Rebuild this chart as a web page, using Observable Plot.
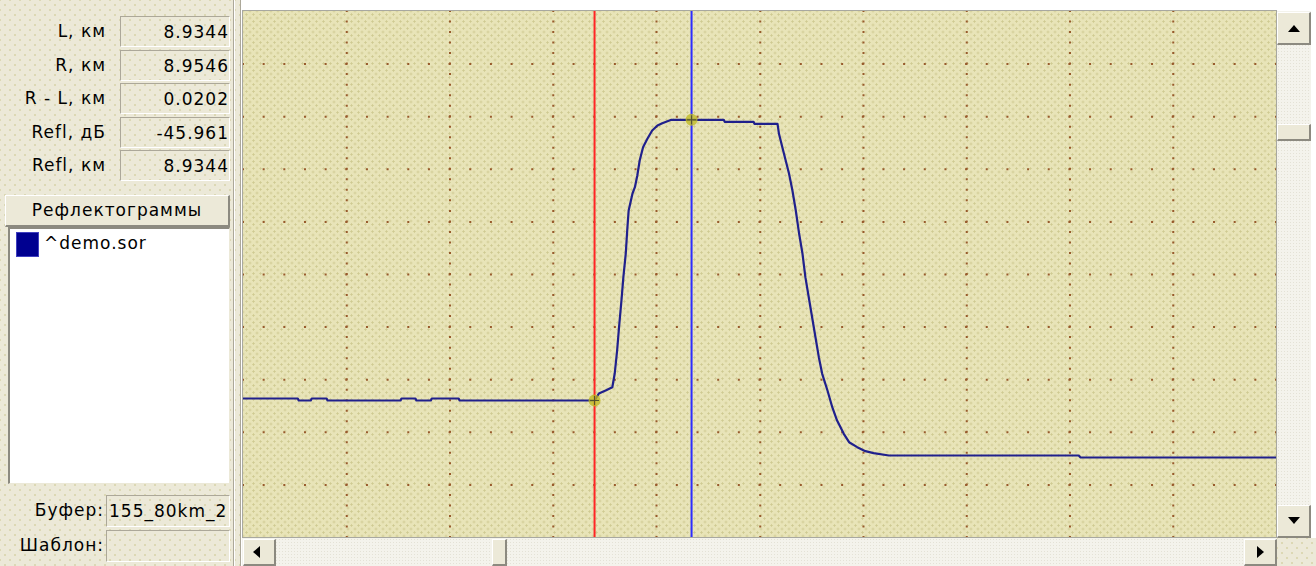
<!DOCTYPE html>
<html>
<head>
<meta charset="utf-8">
<script src="https://cdn.jsdelivr.net/npm/d3@7"></script>
<script src="https://cdn.jsdelivr.net/npm/@observablehq/plot@0.6"></script>
<style>
  html, body { margin:0; padding:0; }
  body { width:1316px; height:566px; position:relative; overflow:hidden; background:#ffffff;
         font-family:"DejaVu Sans", sans-serif; font-size:17px; letter-spacing:1px; color:#000; }
  .abs { position:absolute; box-sizing:border-box; }
  .tex { background-color:#ece9d8;
         background-image:radial-gradient(circle, #dcd8b4 0.9px, transparent 1.3px),
                          radial-gradient(circle, #dcd8b4 0.9px, transparent 1.3px);
         background-size:10px 10px; background-position:0 0, 5px 5px; }
  .lbl { text-align:right; white-space:nowrap; line-height:20px; }
  .box { border-top:1px solid #aca899; border-left:1px solid #aca899; border-bottom:1px solid #fff; border-right:1px solid #fff;
         text-align:right; white-space:nowrap; overflow:hidden; line-height:20px; padding-top:5px; padding-right:0px; }
  .raised { background:#ece9d8; border-top:1px solid #fff; border-left:1px solid #fff;
            border-right:2px solid #8c8a80; border-bottom:2px solid #8c8a80; }
  .track { background-color:#f4f3ec;
           background-image:radial-gradient(circle, #e4e2d6 0.7px, transparent 1px);
           background-size:3px 3px; }
  .tri { position:absolute; width:0; height:0; }
  #plotbox { background-color:#e8e4b8;
             background-image:radial-gradient(circle, #cfca92 0.9px, transparent 1.3px),
                              radial-gradient(circle, #cfca92 0.9px, transparent 1.3px);
             background-size:7px 7px; background-position:0 0, 3.5px 3.5px; overflow:hidden; }
</style>
</head>
<body>
<script>
// ---- data ----
const readoutLabels = ["L, км", "R, км", "R - L, км", "Refl, дБ", "Refl, км"];
const readoutValues = ["8.9344", "8.9546", "0.0202", "-45.961", "8.9344"];
const listTitle = "Рефлектограммы";
const traceNames = ["^demo.sor"];
const bufferLabel = "Буфер:";
const bufferValue = "155_80km_2";
const templateLabel = "Шаблон:";

// trace: distance (km) and level (dB)
const dist = [8.8613, 8.8726, 8.8728, 8.8753, 8.8755, 8.8786, 8.8788, 8.8940, 8.8942, 8.8971, 8.8973, 8.9003, 8.9005, 8.9061, 8.9063, 8.9344,
  8.9353, 8.9367, 8.9381, 8.9386, 8.9391, 8.9395, 8.9400, 8.9404, 8.9409, 8.9412, 8.9415, 8.9423, 8.9428, 8.9433, 8.9438, 8.9445, 8.9454, 8.9464, 8.9475, 8.9485, 8.9504,
  8.9546, 8.9613, 8.9615, 8.9675, 8.9677, 8.9725,
  8.9728, 8.9735, 8.9742, 8.9749, 8.9756, 8.9763, 8.9770, 8.9777, 8.9783, 8.9790, 8.9797, 8.9804, 8.9811, 8.9818, 8.9829, 8.9839, 8.9849, 8.9863, 8.9874, 8.9891, 8.9908, 8.9925, 8.9957,
  9.0352, 9.0356, 9.0764];
const level = [16.643, 16.643, 16.605, 16.605, 16.643, 16.643, 16.605, 16.605, 16.643, 16.643, 16.605, 16.605, 16.643, 16.643, 16.605, 16.605,
  16.738, 16.795, 16.857, 17.118, 17.555, 17.998, 18.506, 18.949, 19.399, 19.837, 20.217, 20.540, 20.660, 20.882, 21.167, 21.420, 21.580, 21.738, 21.833, 21.876, 21.941,
  21.941, 21.941, 21.903, 21.903, 21.865, 21.865,
  21.675, 21.420, 21.167, 20.914, 20.597, 20.217, 19.774, 19.394, 18.949, 18.568, 18.188, 17.808, 17.428, 17.112, 16.795, 16.477, 16.224, 15.971, 15.812, 15.717, 15.641, 15.603, 15.559,
  15.559, 15.521, 15.521];

const xDomain = [8.8613, 9.0764];
const yDomain = [14, 24];
const xGrid = [8.8828, 8.9043, 8.9258, 8.9473, 8.9689, 8.9904, 9.0119, 9.0334, 9.0549];
const yGrid = [15, 16, 17, 18, 19, 20, 21, 22, 23];
const cursorL = [8.9344];
const cursorR = [8.9546];
const markerDist = [8.9344, 8.9546];
const markerLevel = [16.605, 21.941];

// ---- page chrome ----
function el(cls, css, html) {
  const d = document.createElement("div");
  d.className = "abs " + cls;
  Object.assign(d.style, css);
  if (html != null) d.textContent = html;
  document.body.appendChild(d);
  return d;
}
const px = v => v + "px";

// left panel
el("tex", {left:"0px", top:"0px", width:"233px", height:"566px"});
el("", {left:"233px", top:"0px", width:"1px", height:"566px", background:"#aca899"});
el("", {left:"234px", top:"0px", width:"1px", height:"566px", background:"#ffffff"});
el("tex", {left:"235px", top:"0px", width:"5px", height:"566px"});
el("", {left:"240px", top:"0px", width:"1px", height:"566px", background:"#aca899"});

const rowTops = [16, 50, 83, 117, 150];
readoutLabels.forEach((t, i) => {
  el("lbl", {left:"0px", width:"106px", top:px(rowTops[i] + 5), height:"22px"}, t);
  el("box", {left:"120px", width:"110px", top:px(rowTops[i]), height:"31px"}, readoutValues[i]);
});

const hdr = el("raised", {left:"5px", top:"195px", width:"225px", height:"32px", textAlign:"center", lineHeight:"28px"}, listTitle);
const list = el("", {left:"8px", top:"227px", width:"222px", height:"257px", background:"#fff",
  borderTop:"2px solid #8c8a80", borderLeft:"2px solid #8c8a80", borderRight:"1px solid #ece9d8", borderBottom:"1px solid #ece9d8"});
traceNames.forEach((t, i) => {
  el("", {left:"16px", top:px(232 + i*26), width:"23px", height:"25px", background:"#000090", border:"1px solid #4040c0"});
  el("", {left:"44px", top:px(233 + i*26), height:"22px", lineHeight:"20px", whiteSpace:"nowrap"}, t);
});

el("lbl", {left:"0px", width:"104px", top:px(500), height:"22px"}, bufferLabel);
el("box", {left:"106px", width:"124px", top:"495px", height:"32px", textAlign:"left", paddingLeft:"2px"}, bufferValue);
el("lbl", {left:"0px", width:"104px", top:px(535), height:"22px"}, templateLabel);
el("box", {left:"106px", width:"124px", top:"530px", height:"32px"}, "");

// plot frame
el("", {left:"242px", top:"10px", width:"1035px", height:"528px", border:"1px solid #a8a8a0"});
const plotbox = el("", {left:"243px", top:"11px", width:"1033px", height:"526px"});
plotbox.id = "plotbox";

// vertical scrollbar
el("track", {left:"1277px", top:"11px", width:"34px", height:"527px"});
el("raised", {left:"1277px", top:"12px", width:"34px", height:"33px"});
el("raised", {left:"1277px", top:"124px", width:"34px", height:"17px"});
el("raised", {left:"1277px", top:"505px", width:"34px", height:"33px"});
const t1 = el("tri", {left:"1288px", top:"25px", borderLeft:"6px solid transparent", borderRight:"6px solid transparent", borderBottom:"7px solid #000"});
const t2 = el("tri", {left:"1288px", top:"517px", borderLeft:"6px solid transparent", borderRight:"6px solid transparent", borderTop:"7px solid #000"});

// horizontal scrollbar
el("track", {left:"242px", top:"538px", width:"1035px", height:"28px"});
el("raised", {left:"243px", top:"539px", width:"33px", height:"27px"});
el("raised", {left:"492px", top:"539px", width:"15px", height:"27px"});
el("raised", {left:"1244px", top:"539px", width:"33px", height:"27px"});
el("tri", {left:"253px", top:"546px", borderTop:"6px solid transparent", borderBottom:"6px solid transparent", borderRight:"7px solid #000"});
el("tri", {left:"1257px", top:"546px", borderTop:"6px solid transparent", borderBottom:"6px solid transparent", borderLeft:"7px solid #000"});
el("tex", {left:"1277px", top:"538px", width:"39px", height:"28px"});

// ---- chart ----
const trace = dist.map((d, i) => ({d, v: level[i]}));
const markers = markerDist.map((d, i) => ({d, v: markerLevel[i]}));

const chart = Plot.plot({
  width: 1033,
  height: 526,
  margin: 0,
  x: {domain: xDomain, axis: null},
  y: {domain: yDomain, axis: null},
  style: {background: "transparent", overflow: "visible"},
  marks: [
    Plot.ruleX(xGrid, {stroke: "#985a2c", strokeWidth: 2, strokeDasharray: "2,8.52", strokeDashoffset: 1}),
    Plot.ruleY(yGrid, {stroke: "#985a2c", strokeWidth: 2, strokeDasharray: "2,18.66", strokeDashoffset: 1}),
    Plot.line(trace, {x: "d", y: "v", stroke: "#20208c", strokeWidth: 2.2}),
    Plot.ruleX(cursorL, {stroke: "#ff2424", strokeWidth: 2}),
    Plot.ruleX(cursorR, {stroke: "#2c2cff", strokeWidth: 2}),
    Plot.dot(markers, {x: "d", y: "v", r: 6, fill: "#bdb81c", fillOpacity: 0.75}),
    Plot.dot(markers, {x: "d", y: "v", r: 3, symbol: "plus", stroke: "#505030", strokeWidth: 1})
  ]
});
plotbox.appendChild(chart);
</script>
</body>
</html>
